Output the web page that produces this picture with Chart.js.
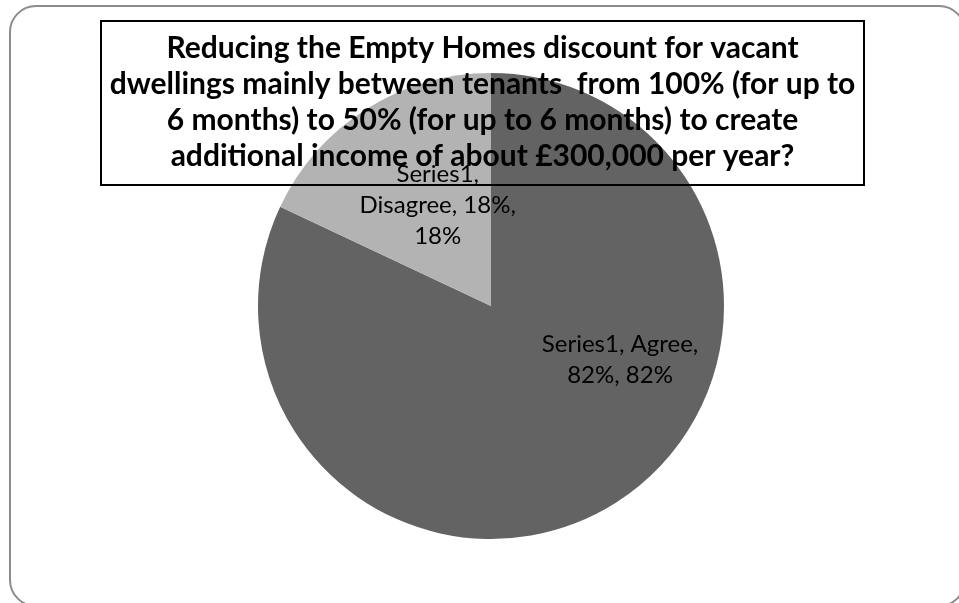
<!DOCTYPE html>
<html>
<head>
<meta charset="utf-8">
<script src="https://cdn.jsdelivr.net/npm/chart.js@4/dist/chart.umd.min.js"></script>
<style>
  html, body { margin: 0; padding: 0; background: #fff; }
  #wrap { width: 959px; height: 603px; position: relative; }
</style>
</head>
<body>
<div id="wrap"><canvas id="pie" width="959" height="603"></canvas></div>
<script>
const seriesName = 'Series1';
const categories = ['Agree', 'Disagree'];
const shares = [82, 18];
const sliceColors = ['#636363', '#b3b3b3'];
const titleLines = [
    'Reducing the Empty Homes discount for vacant',
    'dwellings mainly between tenants  from 100% (for up to',
    '6 months) to 50% (for up to 6 months) to create',
    'additional income of about £300,000 per year?'
];

// rounded grey frame behind everything (runs off the right/bottom edge)
const framePlugin = {
    id: 'frame',
    beforeDraw(chart) {
        const ctx = chart.ctx;
        ctx.save();
        ctx.strokeStyle = '#8c8c8c';
        ctx.lineWidth = 2;
        ctx.beginPath();
        ctx.roundRect(10, 6, 955, 600, 26);
        ctx.stroke();
        ctx.restore();
    }
};

// boxed title sits over the pie (transparent inside)
const titleBoxPlugin = {
    id: 'titleBox',
    afterDatasetsDraw(chart) {
        const ctx = chart.ctx;
        ctx.save();
        ctx.strokeStyle = '#000';
        ctx.lineWidth = 2;
        ctx.strokeRect(101, 21, 763, 164);
        ctx.fillStyle = '#000';
        ctx.font = 'bold 30px Lato';
        ctx.textAlign = 'center';
        ctx.textBaseline = 'alphabetic';
        titleLines.forEach((line, i) => {
            ctx.fillText(line, 482.5, 58 + i * 36);
        });
        ctx.restore();
    }
};

function wrapWords(ctx, text, maxWidth) {
    const words = text.split(' ');
    const lines = [];
    let cur = '';
    words.forEach(w => {
        const test = cur ? cur + ' ' + w : w;
        if (cur && ctx.measureText(test).width > maxWidth) {
            lines.push(cur);
            cur = w;
        } else {
            cur = test;
        }
    });
    if (cur) lines.push(cur);
    return lines;
}

// "Series1, Agree, 82%, 82%" style labels inside the slices
const sliceLabelPlugin = {
    id: 'sliceLabels',
    afterDraw(chart, args, opts) {
        const ctx = chart.ctx;
        const meta = chart.getDatasetMeta(0);
        const total = shares.reduce((a, b) => a + b, 0);
        ctx.save();
        ctx.font = '24px Lato';
        ctx.fillStyle = '#000';
        ctx.textAlign = 'center';
        ctx.textBaseline = 'middle';
        meta.data.forEach((arc, i) => {
            const pct = Math.round(shares[i] / total * 100) + '%';
            const text = `${seriesName}, ${categories[i]}, ${shares[i]}%, ${pct}`;
            const lines = wrapWords(ctx, text, opts.wrapWidth);
            const p = opts.place[i];
            // place[i]: angle offset from slice mid-angle (rad) and radius fraction
            const mid = (arc.startAngle + arc.endAngle) / 2 + p.turn;
            const cx = arc.x + Math.cos(mid) * arc.outerRadius * p.dist;
            const cy = arc.y + Math.sin(mid) * arc.outerRadius * p.dist;
            const lh = 31;
            const top = cy - (lines.length - 1) * lh / 2;
            lines.forEach((l, j) => ctx.fillText(l, cx, top + j * lh));
        });
        ctx.restore();
    }
};

new Chart(document.getElementById('pie'), {
    type: 'pie',
    data: {
        labels: categories,
        datasets: [{
            label: seriesName,
            data: shares,
            backgroundColor: sliceColors,
            borderWidth: 0
        }]
    },
    options: {
        responsive: false,
        animation: false,
        layout: { padding: { left: 258, right: 235, top: 73, bottom: 64 } },
        plugins: {
            legend: { display: false },
            tooltip: { enabled: false },
            title: { display: false },
            sliceLabels: {
                wrapWidth: 172,
                place: [
                    { turn: -0.61, dist: 0.6 },
                    { turn: 0.08, dist: 0.49 }
                ]
            }
        }
    },
    plugins: [framePlugin, titleBoxPlugin, sliceLabelPlugin]
});
</script>
</body>
</html>
